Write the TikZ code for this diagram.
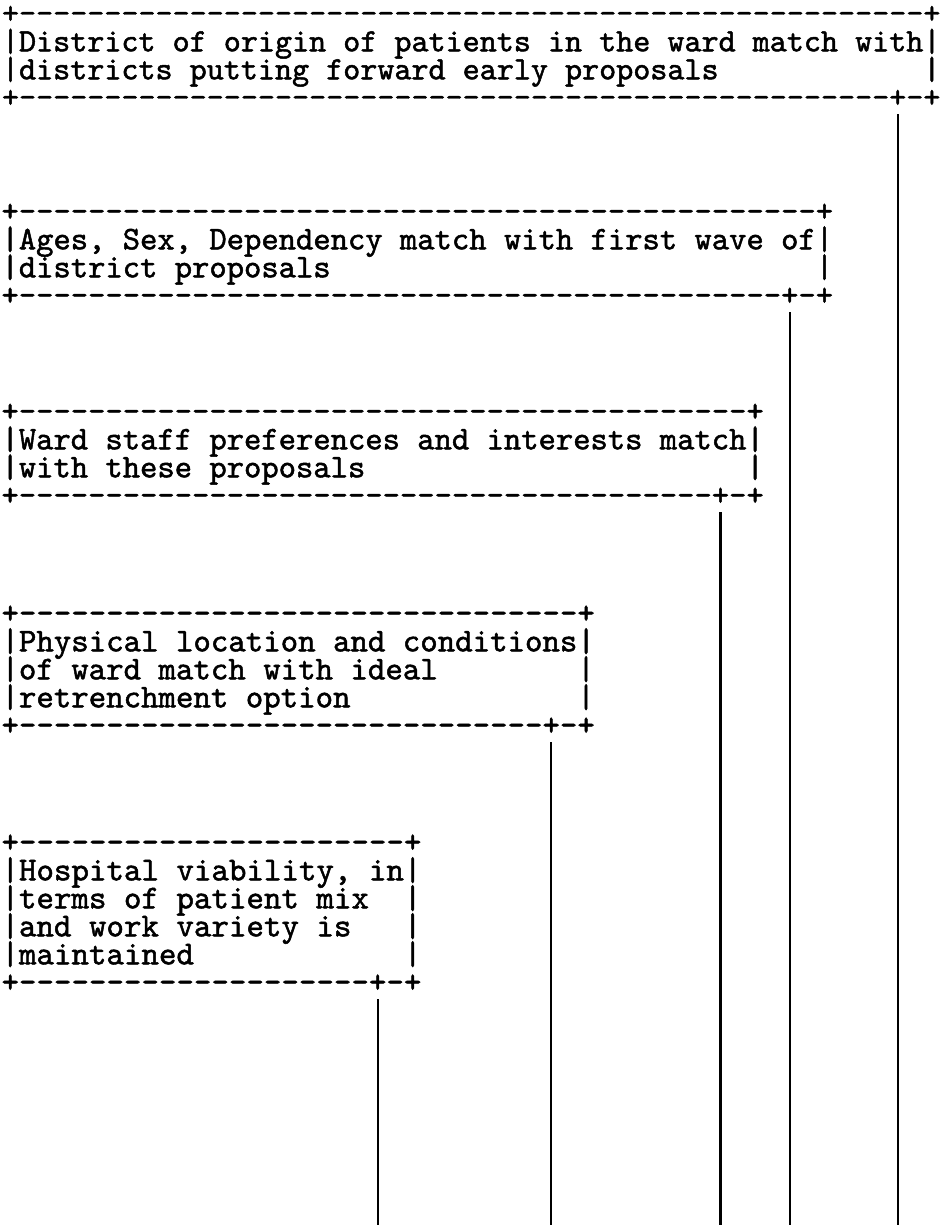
\documentclass[tikz,border=0pt]{standalone}
\usepackage{fontspec}
\newfontfamily\mono[Ligatures=TeXOff,FakeBold=1.5]{lmmono10-regular.otf}
\usetikzlibrary{calc}
\newcommand\boxfont[1]{\fontsize{#1}{28}\mono\lineskiplimit=-100pt\relax}
\newcommand\dashes[1]{\foreach\i in {1,...,#1}{-}}
\newcommand\toprow[1]{\rule{0pt}{20pt}+\dashes{#1}+}
\newcommand\botrow[1]{+\dashes{#1}+-+}
\newcommand\brow[2]{|\makebox[\dimexpr0.525em*#1\relax][l]{#2}|}
\begin{document}
\begin{tikzpicture}[x=1pt,y=-1pt,
  box/.style={anchor=north west, inner sep=0pt, outer sep=0pt, align=left, font=\boxfont{#1}},
  stem/.style={line width=2.2pt}]
\fill[white] (0,0) rectangle (941,1225);
\useasboundingbox (0,0) rectangle (941,1225);

\node[box=32.5] (b1) at (2,3.3) {\toprow{53}\\
\brow{53}{District of origin of patients in the ward match with}\\
\brow{53}{districts putting forward early proposals}\\
\botrow{51}};

\node[box=33] (b2) at (1.5,201.3) {\toprow{46}\\
\brow{46}{Ages, Sex, Dependency match with first wave of}\\
\brow{46}{district proposals}\\
\botrow{44}};

\node[box=33] (b3) at (1.5,401.3) {\toprow{42}\\
\brow{42}{Ward staff preferences and interests match}\\
\brow{42}{with these proposals}\\
\botrow{40}};

\node[box=33.24] (b4) at (1.5,603.3) {\toprow{32}\\
\brow{32}{Physical location and conditions}\\
\brow{32}{of ward match with ideal}\\
\brow{32}{retrenchment option}\\
\botrow{30}};

\node[box=33.33] (b5) at (1.5,832.3) {\toprow{22}\\
\brow{22}{Hospital viability, in}\\
\brow{22}{terms of patient mix}\\
\brow{22}{and work variety is}\\
\brow{22}{maintained}\\
\botrow{20}};

\foreach \k/\s in {1/32.5,2/33,3/33,4/33.24,5/33.33}{
  \coordinate (t\k) at ($(b\k.south east)+(-2.5*0.525*\s,7)$);
  \coordinate (e\k) at (t\k |- 0,1225);
  \draw[stem] (t\k) -- (e\k);
}
\end{tikzpicture}
\end{document}
